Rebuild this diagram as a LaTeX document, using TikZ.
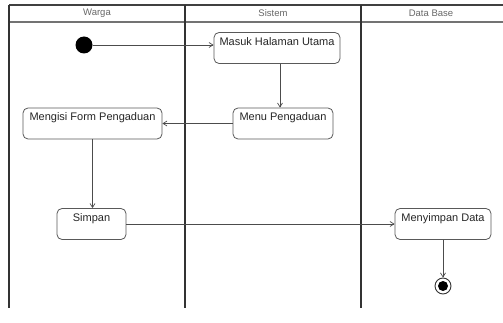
\documentclass[tikz,border=0pt]{standalone}
\usepackage{fontspec}
\setmainfont{Liberation Sans}
\usetikzlibrary{arrows.meta}
\begin{document}
\begin{tikzpicture}[x=1pt,y=-1pt,
  lane/.style={line width=1.8pt,draw=black!80},
  headline/.style={line width=1.2pt,draw=black!75},
  headbase/.style={line width=2.4pt,draw=black!55},
  lanetitle/.style={font=\fontsize{9.5}{10}\selectfont,text=black!60},
  activity/.style={draw=black!65,line width=0.8pt,rounded corners=5pt,fill=white,
    font=\fontsize{11}{12}\selectfont,text=black!85,
    inner xsep=2pt,inner ysep=5pt,text height=8pt,text depth=13pt},
  flow/.style={draw=black!70,line width=0.7pt,-{Straight Barb[length=4pt,width=5pt]}},
  startnode/.style={circle,fill=black,inner sep=0pt,minimum size=17pt},
]
\useasboundingbox (0,0) rectangle (503,323);

% swimlane frame
\draw[headline] (9,5) -- (503,5);
\draw[headbase] (9,22) -- (503,22);
\draw[lane] (9,5) -- (9,308);
\draw[lane] (185,5) -- (185,308);
\draw[lane] (361,5) -- (361,308);

\node[lanetitle] (lwarga) at (97,13) {Warga};
\node[lanetitle] (lsistem) at (273,13) {Sistem};
\node[lanetitle] (ldb) at (431,13) {Data Base};

% activities
\node[startnode] (start) at (84,45) {};
\node[activity,minimum width=126pt] (masuk) at (277,48) {Masuk Halaman Utama};
\node[activity,minimum width=100pt] (menu) at (283,123.5) {Menu Pengaduan};
\node[activity,minimum width=139pt] (isi) at (92.5,123.5) {Mengisi Form Pengaduan};
\node[activity,minimum width=69pt] (simpan) at (91.5,224) {Simpan};
\node[activity,minimum width=96pt] (data) at (443,224) {Menyimpan Data};

% final node
\node[circle,draw=black!80,line width=0.9pt,fill=white,inner sep=0pt,minimum size=16pt] (stop) at (443,286) {};
\node[circle,fill=black,inner sep=0pt,minimum size=10pt] (stopdot) at (stop) {};

% control flow
\coordinate (mx) at (280,0);
\draw[flow] (start) -- (start -| masuk.west);
\draw[flow] (masuk.south -| mx) -- (menu.north -| mx);
\draw[flow] (menu.west) -- (isi.east);
\draw[flow] (isi.south) -- (isi.south |- simpan.north);
\draw[flow] (simpan.east) -- (data.west);
\draw[flow] (data.south) -- (stop.north);
\end{tikzpicture}
\end{document}
